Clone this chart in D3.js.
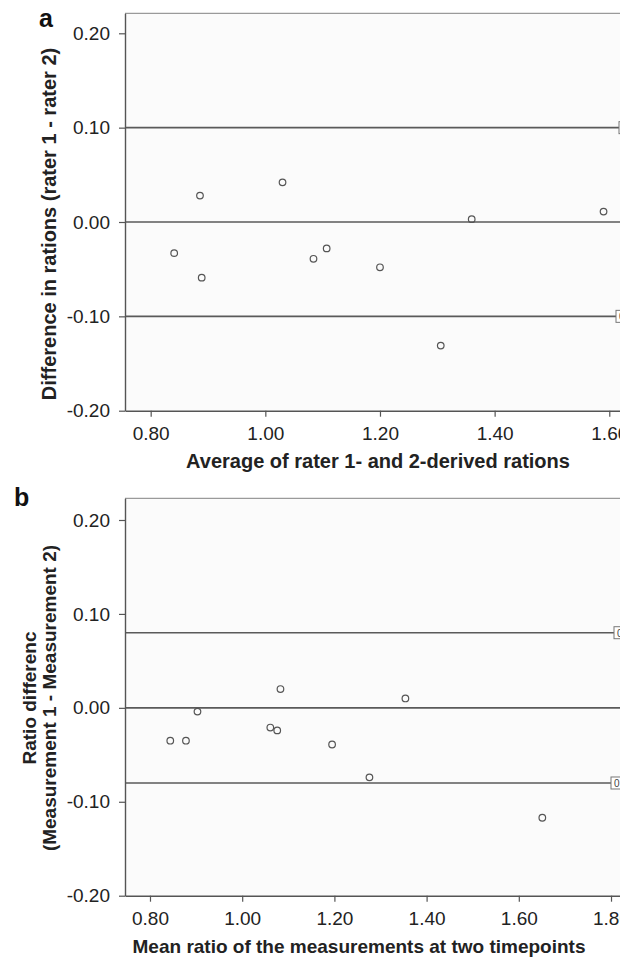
<!DOCTYPE html>
<html>
<head>
<meta charset="utf-8">
<script src="https://cdn.jsdelivr.net/npm/d3@7"></script>
<style>
  body { margin: 0; background: #fff; }
  text { font-family: "Liberation Sans", Arial, Helvetica, sans-serif; }
</style>
</head>
<body>
<div id="chart"></div>
<script>
// Panel a: inter-rater agreement
var aAverage = [0.841, 0.886, 0.889, 1.030, 1.084, 1.107, 1.200, 1.306, 1.360, 1.590];
var aDifference = [-0.033, 0.028, -0.059, 0.042, -0.039, -0.028, -0.048, -0.131, 0.003, 0.011];
var aRefLines = [0.10, 0.00, -0.10];
var aXTicks = [0.80, 1.00, 1.20, 1.40, 1.60];

// Panel b: repeat measurements
var bMean = [0.844, 0.878, 0.903, 1.061, 1.076, 1.083, 1.195, 1.276, 1.354, 1.651];
var bDifference = [-0.035, -0.035, -0.004, -0.021, -0.024, 0.020, -0.039, -0.074, 0.010, -0.117];
var bRefLines = [0.08, 0.00, -0.08];
var bXTicks = [0.80, 1.00, 1.20, 1.40, 1.60, 1.80];

var yTicks = [0.20, 0.10, 0.00, -0.10, -0.20];

var width = 634, height = 960;
var plotLeft = 125, plotRight = 620;

var svg = d3.select("#chart")
    .append("svg")
    .attr("width", width)
    .attr("height", height);

svg.append("rect").attr("width", width).attr("height", height).attr("fill", "#fff");

// the original figure is cut off on the right
svg.append("clipPath").attr("id", "cut")
    .append("rect").attr("x", 0).attr("y", 0).attr("width", plotRight).attr("height", height);

var fig = svg.append("g").attr("clip-path", "url(#cut)");

// plain hyphen for negatives, like the original
function fmt(d) { return d.toFixed(2); }

function drawPanel(opt) {
    var x = d3.scaleLinear().domain(opt.xDomain).range([plotLeft, plotRight]);
    var y = d3.scaleLinear().domain(opt.yDomain).range([opt.bottom, opt.top]);
    var g = fig.append("g");

    // plot background
    g.append("rect")
        .attr("x", plotLeft).attr("y", opt.top)
        .attr("width", plotRight - plotLeft).attr("height", opt.bottom - opt.top)
        .attr("fill", "#fbfbfb");

    // top frame
    g.append("line")
        .attr("x1", plotLeft).attr("x2", plotRight)
        .attr("y1", opt.top).attr("y2", opt.top)
        .attr("stroke", "#9a9a9a").attr("stroke-width", 1.2);

    // reference lines (mean and limits of agreement)
    g.selectAll(".ref").data(opt.refLines).enter()
        .append("line")
        .attr("class", "ref")
        .attr("x1", plotLeft).attr("x2", plotRight)
        .attr("y1", function(d) { return y(d); })
        .attr("y2", function(d) { return y(d); })
        .attr("stroke", "#5a5a5a").attr("stroke-width", 1.6);

    // clipped label boxes at the right end of the limit lines
    opt.refLines.forEach(function(d, i) {
        var shown = opt.boxShown[i];
        if (shown === null) return;
        var bx = plotRight - shown;
        g.append("rect")
            .attr("x", bx).attr("y", y(d) - 6)
            .attr("width", 14).attr("height", 12)
            .attr("fill", "#fff").attr("stroke", "#777").attr("stroke-width", 1);
        g.append("text")
            .attr("x", bx + 3).attr("y", y(d) + 4)
            .attr("font-size", 10).attr("fill", "#444")
            .text("0");
    });

    // points
    g.selectAll(".pt").data(opt.xs).enter()
        .append("circle")
        .attr("class", "pt")
        .attr("cx", function(d) { return x(d); })
        .attr("cy", function(d, i) { return y(opt.ys[i]); })
        .attr("r", 3.3)
        .attr("fill", "none")
        .attr("stroke", "#555")
        .attr("stroke-width", 1.2);

    // axes
    var yAxis = d3.axisLeft(y).tickValues(yTicks).tickFormat(fmt).tickSize(6).tickPadding(9).tickSizeOuter(0);
    var xAxis = d3.axisBottom(x).tickValues(opt.xTicks).tickFormat(fmt).tickSize(6).tickPadding(10).tickSizeOuter(0);

    var ya = g.append("g").attr("transform", "translate(" + plotLeft + ",0)").call(yAxis);
    var xa = g.append("g").attr("transform", "translate(0," + opt.bottom + ")").call(xAxis);

    [ya, xa].forEach(function(a) {
        a.select(".domain").attr("stroke", "#555").attr("stroke-width", 1.4);
        a.selectAll(".tick line").attr("stroke", "#555").attr("stroke-width", 1.2);
        a.selectAll(".tick text")
            .attr("font-size", 19)
            .attr("fill", "#222")
            .style("font-family", "'Liberation Sans', Arial, sans-serif");
    });

    // x axis title
    g.append("text")
        .attr("x", opt.xTitleX).attr("y", opt.bottom + 57)
        .attr("text-anchor", "middle")
        .attr("font-size", opt.titleSize).attr("font-weight", "bold").attr("fill", "#222")
        .text(opt.xTitle);

    // y axis title (one or two lines)
    var yt = g.append("text")
        .attr("transform", "translate(" + opt.yTitleX + "," + opt.yTitleY + ") rotate(-90)")
        .attr("text-anchor", "middle")
        .attr("font-size", opt.titleSize).attr("font-weight", "bold").attr("fill", "#222");
    opt.yTitle.forEach(function(line, i) {
        yt.append("tspan")
            .attr("x", 0)
            .attr("y", (i - opt.yTitle.length + 1) * 20)
            .text(line);
    });

    // panel letter
    svg.append("text")
        .attr("x", opt.letterX).attr("y", opt.letterY)
        .attr("font-size", 25).attr("font-weight", "bold").attr("fill", "#111")
        .text(opt.letter);
}

drawPanel({
    xs: aAverage, ys: aDifference, refLines: aRefLines, xTicks: aXTicks,
    xDomain: [0.7552, 1.6187], yDomain: [-0.20, 0.2212],
    top: 13.3, bottom: 410.7,
    boxShown: [1, null, 4],
    titleSize: 20,
    xTitle: "Average of rater 1- and 2-derived rations", xTitleX: 378,
    yTitle: ["Difference in rations (rater 1 - rater 2)"], yTitleX: 56, yTitleY: 224,
    letter: "a", letterX: 39, letterY: 27
});

drawPanel({
    xs: bMean, ys: bDifference, refLines: bRefLines, xTicks: bXTicks,
    xDomain: [0.7458, 1.8195], yDomain: [-0.20, 0.2231],
    top: 498.3, bottom: 895.7,
    boxShown: [6, null, 9],
    titleSize: 19,
    xTitle: "Mean ratio of the measurements at two timepoints", xTitleX: 359,
    yTitle: ["Ratio differenc", "(Measurement 1 - Measurement 2)"], yTitleX: 56, yTitleY: 698,
    letter: "b", letterX: 14, letterY: 506
});
</script>
</body>
</html>
